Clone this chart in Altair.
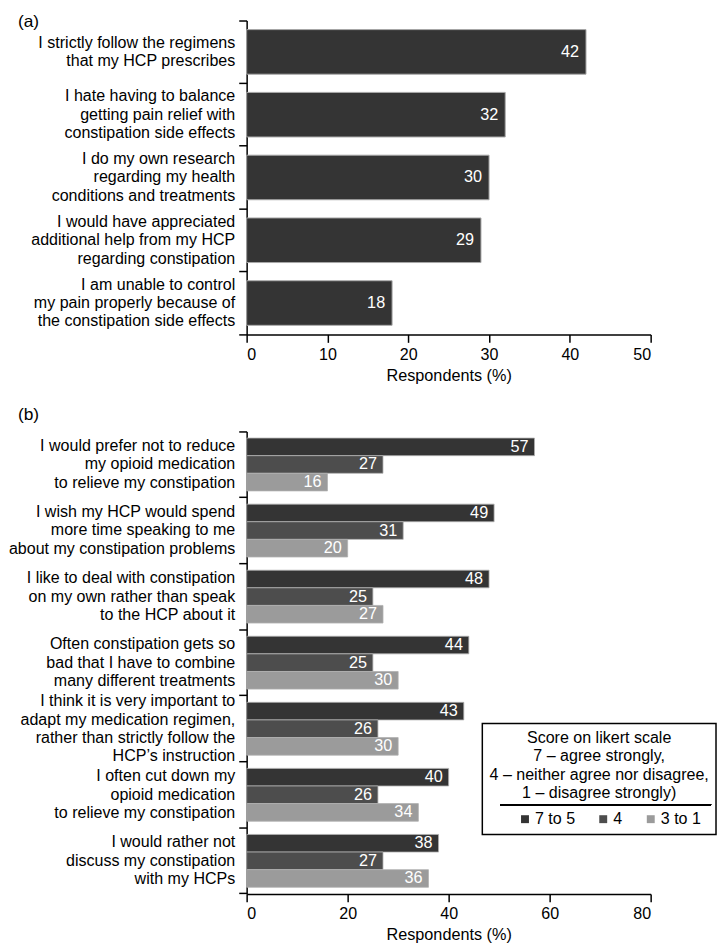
import altair as alt
import pandas as pd

# ---------------- data ----------------
a_items = [
    "I strictly follow the regimens|that my HCP prescribes",
    "I hate having to balance|getting pain relief with|constipation side effects",
    "I do my own research|regarding my health|conditions and treatments",
    "I would have appreciated|additional help from my HCP|regarding constipation",
    "I am unable to control|my pain properly because of|the constipation side effects",
]
a_values = [42, 32, 30, 29, 18]

b_items = [
    "I would prefer not to reduce|my opioid medication|to relieve my constipation",
    "I wish my HCP would spend|more time speaking to me|about my constipation problems",
    "I like to deal with constipation|on my own rather than speak|to the HCP about it",
    "Often constipation gets so|bad that I have to combine|many different treatments",
    "I think it is very important to|adapt my medication regimen,|rather than strictly follow the|HCP\u2019s instruction",
    "I often cut down my|opioid medication|to relieve my constipation",
    "I would rather not|discuss my constipation|with my HCPs",
]
b_series = ["7 to 5", "4", "3 to 1"]
b_high = [57, 49, 48, 44, 43, 40, 38]
b_mid = [27, 31, 25, 25, 26, 26, 27]
b_low = [16, 20, 27, 30, 30, 34, 36]
b_colors = ["#343434", "#4d4d4d", "#9b9b9b"]

a_ticks = [0, 10, 20, 30, 40, 50]
b_ticks = [0, 20, 40, 60, 80]

legend_title = [
    "Score on likert scale",
    "7 \u2013 agree strongly,",
    "4 \u2013 neither agree nor disagree,",
    "1 \u2013 disagree strongly)",
]

FONT = "Liberation Sans"
LH = 18.5

df_a = pd.DataFrame({"item": a_items, "value": a_values})
rows = []
for i, it in enumerate(b_items):
    for s, vals in zip(b_series, [b_high, b_mid, b_low]):
        rows.append({"item": it, "series": s, "value": vals[i]})
df_b = pd.DataFrame(rows)

A_W, A_H = 408, 317
B_W, B_H = 408, 467

# vertical centring of multi-line labels (first line sits on the anchor)
label_offset = {
    "condition": [
        {"test": "length(split(datum.value, '|')) == 3", "value": -LH},
        {"test": "length(split(datum.value, '|')) == 4", "value": -1.5 * LH},
    ],
    "value": -0.5 * LH,
}


def y_axis():
    return alt.Axis(
        title=None,
        labelExpr="split(datum.label, '|')",
        bandPosition=1,
        tickExtra=True,
        labelOffset=label_offset,
        labelLineHeight=LH,
        labelFontSize=16.2,
        labelFont=FONT,
        labelColor="black",
        labelLimit=400,
        labelPadding=4,
        tickSize=8,
        tickColor="black",
        tickWidth=1.5,
        domainColor="black",
        domainWidth=1.5,
    )


def x_axis(vals):
    return alt.Axis(
        title="Respondents (%)",
        values=vals,
        grid=False,
        tickSize=8,
        tickColor="black",
        tickWidth=1.5,
        domainColor="black",
        domainWidth=1.5,
        labelFontSize=16.2,
        labelFont=FONT,
        labelColor="black",
        labelPadding=4,
        labelAngle=0,
        titleFontSize=16.4,
        titleFont=FONT,
        titleFontWeight="normal",
        titleColor="black",
        titlePadding=5,
    )


# ---------------- panel (a) ----------------
base_a = alt.Chart(df_a).encode(
    y=alt.Y("item:N", sort=a_items, scale=alt.Scale(paddingInner=0, paddingOuter=0), axis=y_axis()),
    x=alt.X("value:Q", scale=alt.Scale(domain=[0, 50], nice=False), axis=x_axis(a_ticks)),
)
bars_a = base_a.mark_bar(color="#343434", stroke="#a8a8a8", strokeWidth=1, height={"band": 0.71})
text_a = base_a.mark_text(align="right", baseline="middle", dx=-7, color="white", fontSize=16.4, font=FONT).encode(
    text="value:Q"
)
chart_a = alt.layer(bars_a, text_a).properties(
    width=A_W,
    height=A_H,
    title=alt.TitleParams("(a)", anchor="start", frame="group", dx=-231, fontSize=17.5, font=FONT,
                          fontWeight="normal", color="black", offset=-18),
)

# ---------------- panel (b) ----------------
base_b = alt.Chart(df_b).encode(
    y=alt.Y("item:N", sort=b_items, scale=alt.Scale(paddingInner=0, paddingOuter=0), axis=y_axis()),
    yOffset=alt.YOffset("series:N", sort=b_series, scale=alt.Scale(paddingInner=0, paddingOuter=0.375)),
    x=alt.X("value:Q", scale=alt.Scale(domain=[0, 80], nice=False), axis=x_axis(b_ticks)),
)
bars_b = base_b.mark_bar(stroke="#b0b0b0", strokeWidth=0.8).encode(
    color=alt.Color(
        "series:N",
        sort=b_series,
        scale=alt.Scale(domain=b_series, range=b_colors),
        legend=alt.Legend(
            title=legend_title,
            orient="none",
            legendX=238,
            legendY=295,
            direction="horizontal",
            columns=3,
            titleAnchor="middle",
            titleAlign="center",
            titleFontWeight="normal",
            titleFontSize=16.2,
            titleFont=FONT,
            titleColor="black",
            titleLineHeight=18.3,
            titleLimit=400,
            titlePadding=10,
            labelFontSize=16.2,
            labelFont=FONT,
            labelColor="black",
            labelOffset=2,
            symbolOffset=20,
            symbolType="square",
            symbolSize=64,
            symbolStrokeWidth=0,
            symbolOpacity=1,
            columnPadding=0,
            strokeColor="black",
            padding=7,
        ),
    )
)
text_b = base_b.mark_text(align="right", baseline="middle", dx=-6, color="white", fontSize=16.4, font=FONT).encode(
    text="value:Q"
)
legend_rule = alt.Chart(df_b).mark_rule(color="black", strokeWidth=1.5).encode(
    x=alt.value(256), x2=alt.value(469), y=alt.value(377)
)
chart_b = alt.layer(bars_b, text_b, legend_rule).properties(
    width=B_W,
    height=B_H,
    title=alt.TitleParams("(b)", anchor="start", frame="group", dx=-231, fontSize=17.5, font=FONT,
                          fontWeight="normal", color="black", offset=0),
)

chart = (
    alt.vconcat(chart_a, chart_b, spacing=22)
    .resolve_scale(color="independent")
    .resolve_legend(color="independent")
    .properties(padding=0)
    .configure_view(stroke=None)
    .configure_legend(strokeWidth=1.5)
)

chart.save("out.html", embed_options={"renderer": "svg", "actions": False})
